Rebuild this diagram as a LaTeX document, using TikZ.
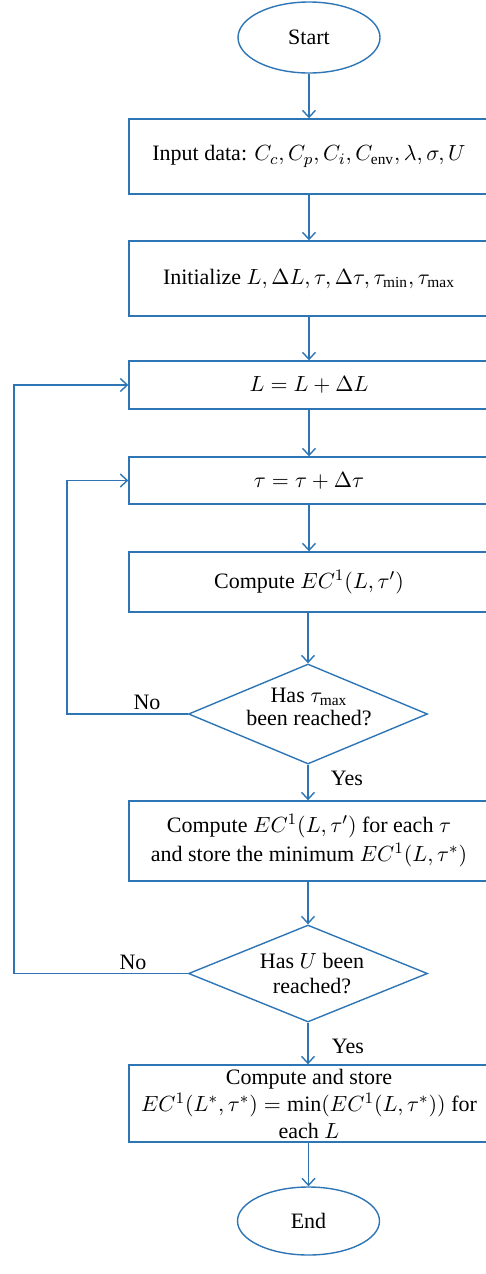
\documentclass[tikz,border=0pt]{standalone}
\usepackage{fontspec}
\setmainfont{Liberation Serif}
\usetikzlibrary{shapes.geometric,arrows.meta}
\definecolor{fcblue}{RGB}{46,117,182}
\begin{document}
\begin{tikzpicture}[x=0.5pt,y=-0.5pt,
  every node/.style={font=\fontsize{11}{13}\selectfont},
  box/.style={draw=fcblue,line width=0.7pt,rectangle,minimum width=180pt,inner sep=0pt,align=center},
  term/.style={draw=fcblue,line width=0.7pt,ellipse,minimum width=71pt,inner sep=0pt},
  dia/.style={draw=fcblue,line width=0.7pt,diamond,minimum width=119.5pt,minimum height=50pt,inner sep=0pt},
  arr/.style={draw=fcblue,line width=0.7pt,-{Straight Barb[length=3.5pt,width=6.5pt]}},
  line/.style={draw=fcblue,line width=0.7pt}]
\path[use as bounding box,clip] (0,0) rectangle (486,1274);

\node[term,minimum height=35.5pt] (start) at (309,37.5) {Start};
\node[box,minimum height=37.5pt] (b1) at (309,156.5) {Input data: $C_c, C_p, C_i, C_{\mathrm{env}}, \lambda, \sigma, U$};
\node[box,minimum height=37.5pt] (b2) at (309,278.5) {Initialize $L, \Delta L, \tau, \Delta\tau, \tau_{\min}, \tau_{\max}$};
\node[box,minimum height=24pt] (b3) at (309,385) {$L = L + \Delta L$};
\node[box,minimum height=23.5pt] (b4) at (309,480.5) {$\tau = \tau + \Delta\tau$};
\node[box,minimum height=30pt] (b5) at (309,582) {Compute $EC^1(L,\tau')$};
\node[dia] (d1) at (308,714) {};
\node[align=center,font=\fontsize{11}{11.5}\selectfont] (d1t) at (309,707) {Has $\tau_{\max}$\\been reached?};
\node[box,minimum height=40pt,font=\fontsize{11}{14.5}\selectfont] (b6) at (309,841) {Compute $EC^1(L,\tau')$ for each $\tau$\\and store the minimum $EC^1(L,\tau^*)$};
\node[dia,minimum height=48.5pt] (d2) at (308,973.5) {};
\node[align=center,font=\fontsize{11}{12.5}\selectfont] (d2t) at (312,974) {Has $U$ been\\reached?};
\node[box,minimum height=38.5pt,font=\fontsize{11}{13.5}\selectfont] (b7) at (309,1103.5) {Compute and store\\$EC^1(L^*,\tau^*)=\min(EC^1(L,\tau^*))$ for\\each $L$};
\node[term,minimum height=34pt] (end) at (308.5,1221) {End};

\draw[arr] (start) -- (b1);
\draw[arr] (b1) -- (b2);
\draw[arr] (b2) -- (b3);
\draw[arr] (b3) -- (b4);
\draw[arr] (b4) -- (b5);
\draw[arr] (b5.south -| d1.north) -- (d1.north);
\draw[arr] (d1.south) -- (d1.south |- b6.north);
\draw[arr] (b6.south -| d2.north) -- (d2.north);
\draw[arr] (d2.south) -- (d2.south |- b7.north);
\draw[arr] (b7.south -| end.north) -- (end.north);
\draw[arr] (d1.west) -- ++(-121,0) |- (b4.west);
\draw[arr] (d2.west) -- ++(-174,0) |- (b3.west);

\node (no1) at (147,702) {No};
\node (no2) at (133,962) {No};
\node (yes1) at (347,778) {Yes};
\node (yes2) at (348,1046) {Yes};
\end{tikzpicture}
\end{document}
